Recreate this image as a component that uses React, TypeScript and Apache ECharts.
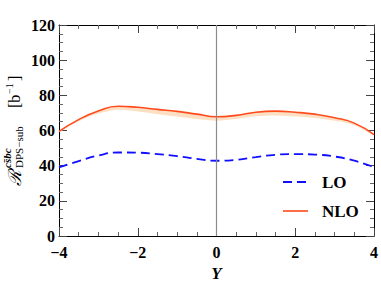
import React, { useEffect, useRef } from "react";
import * as echarts from "echarts";

const rapidity = [-4, -3.5, -3, -2.5, -2, -1.5, -1, -0.5, 0, 0.5, 1, 1.5, 2, 2.5, 3, 3.5, 4];
const nloValues = [59.5, 66.2, 71.1, 73.8, 73.2, 72.0, 70.9, 69.3, 67.8, 68.6, 70.4, 71.0, 70.4, 69.3, 67.3, 64.2, 57.7];
const nloBandWidth = [0.5, 1.0, 1.5, 2.0, 2.4, 2.7, 2.9, 2.8, 2.2, 2.0, 2.3, 2.5, 2.5, 2.2, 1.8, 1.2, 0.5];
const loValues = [39.0, 42.6, 45.8, 47.5, 47.4, 46.6, 45.4, 43.9, 42.8, 43.3, 44.9, 46.2, 46.6, 46.3, 45.2, 42.8, 39.2];
const xTicks = [-4, -2, 0, 2, 4];
const yTicks = [0, 20, 40, 60, 80, 100, 120];

const FONT = "'Liberation Serif', 'DejaVu Serif', serif";

export default function App() {
  const ref = useRef<HTMLDivElement>(null);
  useEffect(() => {
    if (!ref.current) return;
    const chart = echarts.init(ref.current, null, { renderer: "svg" });
    const nlo = rapidity.map((x, i) => [x, nloValues[i]]);
    const lo = rapidity.map((x, i) => [x, loValues[i]]);

    const axisCommon = {
      axisLine: { show: true, onZero: false, lineStyle: { color: "#000", width: 1 } },
      axisTick: { show: true, inside: true, length: 8, lineStyle: { color: "#444" } },
      minorTick: { show: true, splitNumber: 4, length: 4, lineStyle: { color: "#666" } },
      splitLine: { show: false },
    };

    chart.setOption({
      animation: false,
      grid: { left: 59, right: 6, top: 25, bottom: 52, containLabel: false },
      xAxis: [
        {
          type: "value",
          min: xTicks[0],
          max: xTicks[xTicks.length - 1],
          interval: 2,
          position: "bottom",
          ...axisCommon,
          axisLabel: {
            color: "#000",
            fontFamily: FONT,
            fontWeight: "bold",
            fontSize: 16,
            margin: 8,
            formatter: (v: number) => (v < 0 ? "\u2212" + Math.abs(v) : String(v)),
          },
          name: "Y",
          nameLocation: "middle",
          nameGap: 28,
          nameTextStyle: { color: "#000", fontFamily: FONT, fontWeight: "bold", fontStyle: "italic", fontSize: 17 },
        },
        {
          type: "value",
          min: xTicks[0],
          max: xTicks[xTicks.length - 1],
          interval: 2,
          position: "top",
          ...axisCommon,
          axisLabel: { show: false },
        },
      ],
      yAxis: [
        {
          type: "value",
          min: yTicks[0],
          max: yTicks[yTicks.length - 1],
          interval: 20,
          position: "left",
          ...axisCommon,
          axisLabel: { color: "#000", fontFamily: FONT, fontWeight: "bold", fontSize: 16, margin: 4 },
        },
        {
          type: "value",
          min: yTicks[0],
          max: yTicks[yTicks.length - 1],
          interval: 20,
          position: "right",
          ...axisCommon,
          axisLabel: { show: false },
        },
      ],
      series: [
        {
          type: "custom",
          data: [[0, 0]],
          silent: true,
          z: 1,
          renderItem: (_params: any, api: any) => {
            const upper = rapidity.map((x, i) => api.coord([x, nloValues[i]]));
            const lower = rapidity
              .map((x, i) => api.coord([x, nloValues[i] - nloBandWidth[i]]))
              .reverse();
            return {
              type: "polygon",
              shape: { points: upper.concat(lower), smooth: 0.3 },
              style: { fill: "#fde0c4", stroke: "none" },
            };
          },
        },
        {
          name: "LO",
          type: "line",
          data: lo,
          smooth: true,
          symbol: "none",
          lineStyle: { color: "#1010ff", width: 1.8, type: [9, 5] },
          z: 3,
        },
        {
          name: "NLO",
          type: "line",
          data: nlo,
          smooth: true,
          symbol: "none",
          lineStyle: { color: "#ff4a1c", width: 1.6 },
          z: 3,
          markLine: {
            silent: true,
            symbol: "none",
            label: { show: false },
            lineStyle: { color: "#8c8c8c", width: 1.2, type: "solid" },
            data: [{ xAxis: 0 }],
          },
        },
      ],
      graphic: [
        { type: "line", shape: { x1: 283, y1: 182, x2: 308, y2: 182 }, style: { stroke: "#1010ff", lineWidth: 1.8, lineDash: [9, 5] } },
        { type: "text", x: 322, y: 182, style: { text: "LO", font: `bold 17px ${FONT}`, fill: "#000", verticalAlign: "middle", align: "left" } },
        { type: "line", shape: { x1: 283, y1: 211, x2: 308, y2: 211 }, style: { stroke: "#ff4a1c", lineWidth: 1.6 } },
        { type: "text", x: 322, y: 211, style: { text: "NLO", font: `bold 17px ${FONT}`, fill: "#000", verticalAlign: "middle", align: "left" } },
        {
          type: "group",
          x: 14,
          y: 186,
          rotation: Math.PI / 2,
          children: [
            { type: "text", x: 0, y: 0, style: { text: "\u211B", font: "italic 18px 'DejaVu Serif', serif", fill: "#000", verticalAlign: "middle", align: "left" } },
            { type: "text", x: 18, y: -7, style: { text: "cs\u0304bc", font: `italic bold 11px ${FONT}`, fill: "#000", verticalAlign: "middle", align: "left" } },
            { type: "text", x: 18, y: 5, style: { text: "DPS\u2212sub", font: `11px ${FONT}`, fill: "#000", verticalAlign: "middle", align: "left" } },
            { type: "text", x: 78, y: 0, style: { text: "[b", font: `16px ${FONT}`, fill: "#000", verticalAlign: "middle", align: "left" } },
            { type: "text", x: 92, y: -5, style: { text: "\u22121", font: `10px ${FONT}`, fill: "#000", verticalAlign: "middle", align: "left" } },
            { type: "text", x: 105, y: 0, style: { text: "]", font: `16px ${FONT}`, fill: "#000", verticalAlign: "middle", align: "left" } },
          ],
        },
      ],
    });
    return () => chart.dispose();
  }, []);
  return <div ref={ref} style={{ position: "absolute", left: 0, top: 0, width: 381, height: 288 }} />;
}
